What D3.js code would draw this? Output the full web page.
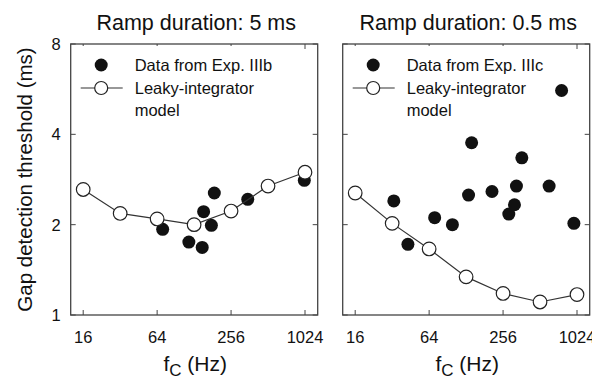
<!doctype html>
<html>
<head>
<meta charset="utf-8">
<script src="https://d3js.org/d3.v7.min.js"></script>
<style>
  body { margin: 0; background: #fff; }
  text { font-family: "Liberation Sans", Arial, sans-serif; fill: #111; }
</style>
</head>
<body>
<svg width="592" height="384"></svg>
<script>
// values
var modelFreq = [16, 32, 64, 128, 256, 512, 1024];
var modelA = [2.62, 2.18, 2.09, 2.0, 2.22, 2.69, 2.99];
var modelB = [2.55, 2.02, 1.66, 1.34, 1.18, 1.105, 1.17];

var dataAFreq = [71, 116, 149, 153, 177, 187, 350, 1011];
var dataAVal = [1.93, 1.75, 1.68, 2.21, 1.99, 2.55, 2.43, 2.81];

var dataBFreq = [33, 43, 71, 99, 134, 142, 208, 285, 317, 329, 364, 607, 767, 966];
var dataBVal = [2.40, 1.72, 2.11, 2.00, 2.51, 3.75, 2.58, 2.17, 2.33, 2.69, 3.34, 2.69, 5.6, 2.02];

var xTicks = [16, 64, 256, 1024];
var yTicks = [1, 2, 4, 8];

var panels = [
  {left: 70.7, title: "Ramp duration: 5 ms", legend: "Data from Exp. IIIb", model: modelA, fx: dataAFreq, fy: dataAVal, yLabels: true},
  {left: 342.7, title: "Ramp duration: 0.5 ms", legend: "Data from Exp. IIIc", model: modelB, fx: dataBFreq, fy: dataBVal, yLabels: false}
];

var svg = d3.select("svg");
var plotTop = 44, pw = 247, ph = 271;
var frameCol = "#444";

var x = d3.scaleLog().base(2).domain([16, 1024]).range([12.5, 234.3]);
var y = d3.scaleLog().base(2).domain([1, 8]).range([ph, 0]);

panels.forEach(function(p) {
  var g = svg.append("g").attr("transform", "translate(" + p.left + "," + plotTop + ")");

  // frame
  g.append("rect").attr("width", pw).attr("height", ph)
    .attr("fill", "none").attr("stroke", frameCol).attr("stroke-width", 1.3);

  // inward ticks, all four sides
  xTicks.forEach(function(t) {
    g.append("line").attr("x1", x(t)).attr("x2", x(t)).attr("y1", ph).attr("y2", ph - 5)
      .attr("stroke", frameCol);
    g.append("line").attr("x1", x(t)).attr("x2", x(t)).attr("y1", 0).attr("y2", 5)
      .attr("stroke", frameCol);
    g.append("text").attr("x", x(t)).attr("y", ph + 28)
      .attr("text-anchor", "middle").attr("font-size", 16.5).text(t);
  });
  yTicks.forEach(function(t) {
    g.append("line").attr("x1", 0).attr("x2", 5).attr("y1", y(t)).attr("y2", y(t))
      .attr("stroke", frameCol);
    g.append("line").attr("x1", pw).attr("x2", pw - 5).attr("y1", y(t)).attr("y2", y(t))
      .attr("stroke", frameCol);
    if (p.yLabels) {
      g.append("text").attr("x", -10).attr("y", y(t)).attr("dy", "0.36em")
        .attr("text-anchor", "end").attr("font-size", 16.5).text(t);
    }
  });

  // legend box (white, hides the top ticks beneath it)
  var lg = g.append("g");
  lg.append("rect").attr("x", 6).attr("y", 2).attr("width", 200).attr("height", 76).attr("fill", "#fff");
  lg.append("circle").attr("cx", 30.5).attr("cy", 21).attr("r", 6.5).attr("fill", "#111");
  lg.append("text").attr("x", 64).attr("y", 21).attr("dy", "0.36em").attr("font-size", 16.5).text(p.legend);
  lg.append("line").attr("x1", 10).attr("x2", 52).attr("y1", 44).attr("y2", 44)
    .attr("stroke", "#333").attr("stroke-width", 1.2);
  lg.append("circle").attr("cx", 30.5).attr("cy", 44).attr("r", 6.5)
    .attr("fill", "#fff").attr("stroke", "#222").attr("stroke-width", 1.2);
  lg.append("text").attr("x", 64).attr("y", 44).attr("dy", "0.36em").attr("font-size", 16.5).text("Leaky-integrator");
  lg.append("text").attr("x", 64).attr("y", 66).attr("dy", "0.36em").attr("font-size", 16.5).text("model");

  // data points
  g.selectAll(".dot").data(p.fx).enter().append("circle").attr("class", "dot")
    .attr("cx", function(d) { return x(d); })
    .attr("cy", function(d, i) { return y(p.fy[i]); })
    .attr("r", 6.5).attr("fill", "#111");

  // model line
  var line = d3.line().x(function(d, i) { return x(modelFreq[i]); }).y(function(d) { return y(d); });
  g.append("path").datum(p.model).attr("d", line)
    .attr("fill", "none").attr("stroke", "#333").attr("stroke-width", 1.2);
  g.selectAll(".mod").data(p.model).enter().append("circle").attr("class", "mod")
    .attr("cx", function(d, i) { return x(modelFreq[i]); })
    .attr("cy", function(d) { return y(d); })
    .attr("r", 6.8).attr("fill", "#fff").attr("stroke", "#222").attr("stroke-width", 1.2);

  // title
  g.append("text").attr("x", pw / 2 + 2).attr("y", -14).attr("text-anchor", "middle")
    .attr("font-size", 21.5).text(p.title);

  // x label
  var xl = g.append("text").attr("x", pw / 2 + 1).attr("y", ph + 56).attr("text-anchor", "middle")
    .attr("font-size", 21);
  xl.append("tspan").text("f");
  xl.append("tspan").attr("font-size", 17).attr("dy", 5).text("C");
  xl.append("tspan").attr("dy", -5).text(" (Hz)");
});

svg.append("text")
  .attr("transform", "translate(32," + (plotTop + ph / 2) + ") rotate(-90)")
  .attr("text-anchor", "middle").attr("font-size", 20.5)
  .text("Gap detection threshold (ms)");
</script>
</body>
</html>
